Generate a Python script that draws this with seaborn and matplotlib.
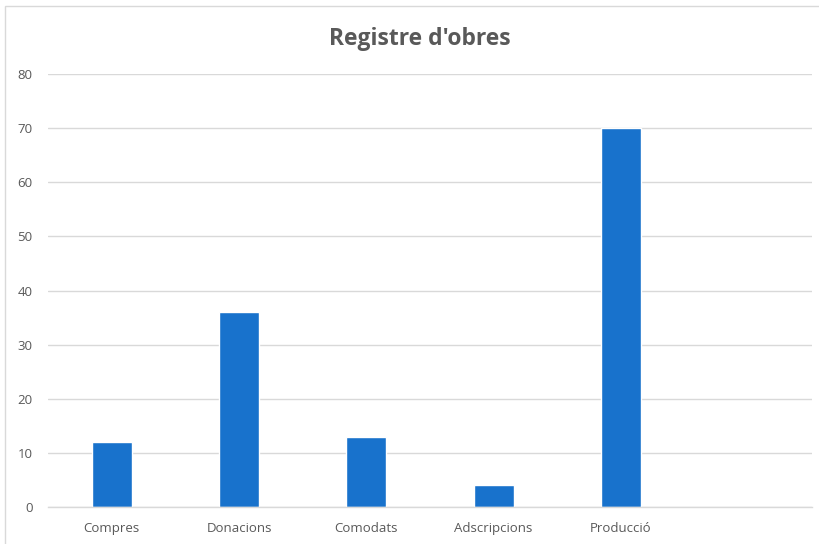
import numpy as np
import pandas as pd
import matplotlib
matplotlib.use("Agg")
import matplotlib.pyplot as plt
import matplotlib.patches as mpatches
import seaborn as sns

# ── dades ──────────────────────────────────────────────
categories = ["Compres", "Donacions", "Comodats", "Adscripcions", "Producció", " "]
valors     = [12, 36, 13, 4, 70, np.nan]
yticks     = [0, 10, 20, 30, 40, 50, 60, 70, 80]

BAR   = "#1872CC"
GRID  = "#D9D9D9"
TEXT  = "#595959"

df = pd.DataFrame({"cat": categories, "val": valors})

sns.set_theme(style="white")
plt.rcParams["font.family"] = ["Open Sans", "DejaVu Sans"]

fig = plt.figure(figsize=(8.19, 5.44), dpi=100)
ax = fig.add_axes([48/819, 1 - 507/544, (812 - 48)/819, (507 - 74)/544])

sns.barplot(data=df, x="cat", y="val", order=categories, color=BAR,
            width=0.314, saturation=1, ax=ax, errorbar=None)

ax.set_xlim(-0.5, len(categories) - 0.5)
ax.set_ylim(0, 80)
ax.set_yticks(yticks)
ax.yaxis.grid(True, color=GRID, lw=1)
ax.set_axisbelow(True)
for s in ["top", "right", "left"]:
    ax.spines[s].set_visible(False)
ax.spines["bottom"].set_color(GRID)
ax.spines["bottom"].set_linewidth(1)
ax.tick_params(axis="both", length=0, colors=TEXT, labelsize=9.5)
ax.tick_params(axis="x", pad=11)
ax.tick_params(axis="y", pad=11)
ax.set_xlabel("")
ax.set_ylabel("")

fig.text(420/819, 1 - 39/544, "Registre d'obres", ha="center", va="center",
         fontsize=16.5, fontweight="bold", color=TEXT)

# marc del gràfic
fig.patches.append(mpatches.Rectangle((5/819, -0.1), 1.1, 1 - 6/544 + 0.1,
                   transform=fig.transFigure, fill=False, edgecolor=GRID, lw=1))

plt.savefig("out.png", dpi=100, facecolor="white")
plt.close()
